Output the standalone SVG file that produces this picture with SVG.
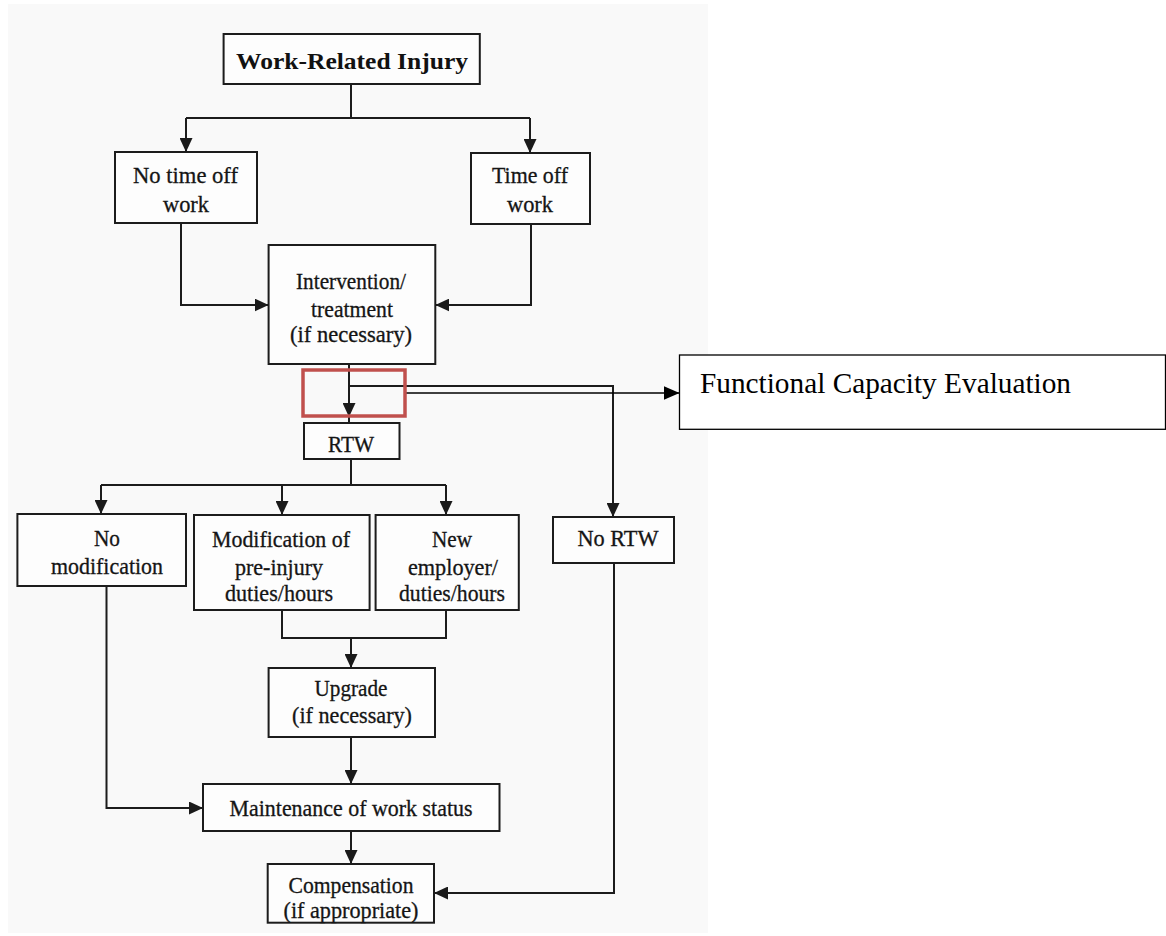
<svg xmlns="http://www.w3.org/2000/svg" width="1166" height="936" viewBox="0 0 1166 936">
<style>
.box{fill:#fdfdfd;stroke:#1c1c1c;stroke-width:2}
.t{font-family:"Liberation Serif","Times New Roman",serif;font-size:22.5px;fill:#151515;stroke:#151515;stroke-width:0.3;text-anchor:middle}
.tb{font-family:"Liberation Serif","Times New Roman",serif;font-size:24px;font-weight:bold;fill:#111;text-anchor:middle}
.fce{font-family:"Liberation Serif","Times New Roman",serif;font-size:29.5px;fill:#000}
.ln{fill:none;stroke:#1c1c1c;stroke-width:2}
.lnk{fill:none;stroke:#000;stroke-width:1.5}
</style>
<defs>
<marker id="ah" markerUnits="userSpaceOnUse" markerWidth="14" markerHeight="13" refX="14" refY="6.5" orient="auto">
<path d="M0,0 L14,6.5 L0,13 z" fill="#1a1a1a"/>
</marker>
<marker id="ahk" markerUnits="userSpaceOnUse" markerWidth="16" markerHeight="14" refX="16" refY="7" orient="auto">
<path d="M0,0 L16,7 L0,14 z" fill="#000"/>
</marker>
</defs>
<rect x="0" y="0" width="1166" height="936" fill="#fff"/>
<rect x="8" y="4" width="700" height="929" fill="#f9f9f9"/>

<g id="connectors">
<path class="ln" d="M351,84 V118"/>
<path class="ln" d="M186,118 H530"/>
<path class="ln" d="M186,118 V152" marker-end="url(#ah)"/>
<path class="ln" d="M530,118 V153" marker-end="url(#ah)"/>
<path class="ln" d="M181,223 V305 H268.6" marker-end="url(#ah)"/>
<path class="ln" d="M531,224 V305 H435.3" marker-end="url(#ah)"/>
<path class="ln" d="M349,364 V417" marker-end="url(#ah)"/>
<path class="ln" d="M349,416 V423"/>
<path class="ln" d="M349,386 H613 V517" marker-end="url(#ah)"/>
<path class="lnk" d="M405,393 H679.5" marker-end="url(#ahk)"/>
<path class="ln" d="M351,459 V485"/>
<path class="ln" d="M101,485 H446"/>
<path class="ln" d="M101,485 V514" marker-end="url(#ah)"/>
<path class="ln" d="M282,485 V515" marker-end="url(#ah)"/>
<path class="ln" d="M446,485 V515" marker-end="url(#ah)"/>
<path class="ln" d="M282,610 V638 H446 V610"/>
<path class="ln" d="M351,638 V668" marker-end="url(#ah)"/>
<path class="ln" d="M106.5,586 V808 H203" marker-end="url(#ah)"/>
<path class="ln" d="M351,737 V784" marker-end="url(#ah)"/>
<path class="ln" d="M351,831 V864" marker-end="url(#ah)"/>
<path class="ln" d="M614,563 V893 H434" marker-end="url(#ah)"/>
</g>

<g id="work-related-injury">
<rect class="box" x="223.6" y="34" width="256.2" height="50"/>
<text class="tb" x="352" y="69" textLength="232" lengthAdjust="spacingAndGlyphs">Work-Related Injury</text>
</g>

<g id="no-time-off">
<rect class="box" x="115" y="152" width="142" height="71"/>
<text class="t" x="185.5" y="183" textLength="105" lengthAdjust="spacingAndGlyphs">No time off</text>
<text class="t" x="186" y="212" textLength="46" lengthAdjust="spacingAndGlyphs">work</text>
</g>

<g id="time-off">
<rect class="box" x="471" y="153" width="119" height="71"/>
<text class="t" x="530" y="183" textLength="76" lengthAdjust="spacingAndGlyphs">Time off</text>
<text class="t" x="530" y="212" textLength="46" lengthAdjust="spacingAndGlyphs">work</text>
</g>

<g id="intervention">
<rect class="box" x="268.6" y="245" width="166.7" height="119"/>
<text class="t" x="351" y="289" textLength="110" lengthAdjust="spacingAndGlyphs">Intervention/</text>
<text class="t" x="352" y="317" textLength="82" lengthAdjust="spacingAndGlyphs">treatment</text>
<text class="t" x="351" y="342" textLength="122" lengthAdjust="spacingAndGlyphs">(if necessary)</text>
</g>

<g id="rtw">
<rect class="box" x="304" y="423" width="95.5" height="36"/>
<text class="t" x="351" y="452" textLength="46" lengthAdjust="spacingAndGlyphs">RTW</text>
</g>

<g id="fce">
<rect x="679.5" y="355" width="486" height="74.3" fill="#fff" stroke="#000" stroke-width="1.3"/>
<text class="fce" x="700" y="393" textLength="371" lengthAdjust="spacingAndGlyphs">Functional Capacity Evaluation</text>
</g>

<g id="highlight">
<rect x="303" y="370" width="102" height="46" fill="none" stroke="#c0504d" stroke-width="3.5"/>
</g>

<g id="no-modification">
<rect class="box" x="17.4" y="514" width="168.6" height="72"/>
<text class="t" x="107" y="546" textLength="26" lengthAdjust="spacingAndGlyphs">No</text>
<text class="t" x="107" y="574" textLength="112" lengthAdjust="spacingAndGlyphs">modification</text>
</g>

<g id="modification">
<rect class="box" x="194" y="515" width="175.6" height="95"/>
<text class="t" x="281" y="547" textLength="138" lengthAdjust="spacingAndGlyphs">Modification of</text>
<text class="t" x="279" y="575" textLength="88" lengthAdjust="spacingAndGlyphs">pre-injury</text>
<text class="t" x="279" y="601" textLength="108" lengthAdjust="spacingAndGlyphs">duties/hours</text>
</g>

<g id="new-employer">
<rect class="box" x="375.6" y="515" width="143.2" height="95"/>
<text class="t" x="452" y="547" textLength="40" lengthAdjust="spacingAndGlyphs">New</text>
<text class="t" x="453" y="575" textLength="90" lengthAdjust="spacingAndGlyphs">employer/</text>
<text class="t" x="452" y="601" textLength="106" lengthAdjust="spacingAndGlyphs">duties/hours</text>
</g>

<g id="no-rtw">
<rect class="box" x="553" y="517" width="121" height="46"/>
<text class="t" x="618" y="546" textLength="81" lengthAdjust="spacingAndGlyphs">No RTW</text>
</g>

<g id="upgrade">
<rect class="box" x="268.6" y="668" width="166.4" height="69"/>
<text class="t" x="351" y="696" textLength="73" lengthAdjust="spacingAndGlyphs">Upgrade</text>
<text class="t" x="352" y="723" textLength="120" lengthAdjust="spacingAndGlyphs">(if necessary)</text>
</g>

<g id="maintenance">
<rect class="box" x="203" y="784" width="296.5" height="47"/>
<text class="t" x="351" y="816" textLength="243" lengthAdjust="spacingAndGlyphs">Maintenance of work status</text>
</g>

<g id="compensation">
<rect class="box" x="267.7" y="864" width="166.3" height="58.7"/>
<text class="t" x="351" y="893" textLength="125" lengthAdjust="spacingAndGlyphs">Compensation</text>
<text class="t" x="351" y="918" textLength="135" lengthAdjust="spacingAndGlyphs">(if appropriate)</text>
</g>
</svg>
